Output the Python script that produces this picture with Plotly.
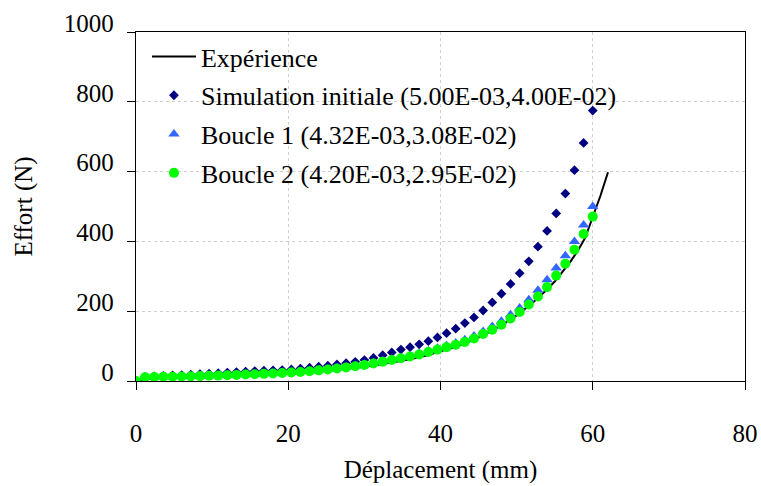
import plotly.graph_objects as go

# ---- data ----
exp_x = [0, 2, 4, 6, 8, 10, 12, 14, 16, 18, 20, 22, 24, 26, 28, 30, 32, 34, 36, 38,
         40, 42, 44, 46, 48, 50, 52, 54, 55, 56, 57, 58, 59, 60, 61, 62]
exp_y = [0, 8, 10, 12, 13, 14.5, 16, 17.5, 19, 21, 23, 25.5, 28.5, 32, 36, 41, 47, 54, 62, 72,
         84, 98, 115, 136, 160, 188, 222, 262, 285, 312, 340, 372, 410, 470, 530, 598]

sim_x = [0, 1.2, 2.4, 3.6, 4.8, 6.0, 7.2, 8.4, 9.6, 10.8, 12.0, 13.2, 14.4, 15.6, 16.8,
         18.0, 19.2, 20.4, 21.6, 22.8, 24.0, 25.2, 26.4, 27.6, 28.8, 30.0, 31.2, 32.4,
         33.6, 34.8, 36.0, 37.2, 38.4, 39.6, 40.8, 42.0, 43.2, 44.4, 45.6, 46.8, 48.0,
         49.2, 50.4, 51.6, 52.8, 54.0, 55.2, 56.4, 57.6, 58.8, 60.0]

sim_init = [0, 12, 13.5, 15, 16, 17, 18.5, 20, 21, 22.5, 24, 25.5, 27, 28.5, 29.5,
            30.5, 31.5, 33, 35.5, 38, 41, 44, 47.5, 51, 55, 60, 66, 74,
            82, 90, 97, 105, 114, 125, 137, 150, 166, 182, 202, 225, 250,
            278, 309, 343, 385, 430, 480, 537, 604, 682, 775]

boucle1 = [0, 11, 11.5, 12, 12.5, 13, 13.5, 14.5, 15, 16, 17, 18, 19, 20, 21,
           22.5, 24, 25.5, 27, 29, 31.5, 34, 37, 40, 44, 48, 52, 57,
           62, 67, 73, 79, 86, 94, 101, 109, 118, 129, 142, 156, 171,
           190, 209, 233, 260, 290, 324, 359, 400, 447, 500]

boucle2 = [0, 11, 11.5, 12, 12.5, 13, 13.5, 14, 15, 15.5, 16.5, 17.5, 18.5, 19.5, 20.5,
           21.5, 23, 24.5, 26, 28, 30.5, 33, 36, 39, 42.5, 46, 50, 55,
           60, 65, 70, 76, 83, 90, 97, 104, 112, 122, 135, 147, 161.5,
           179, 198, 219, 242, 269, 302, 336, 376, 421, 471]

names = ["Expérience",
         "Simulation initiale (5.00E-03,4.00E-02)",
         "Boucle 1 (4.32E-03,3.08E-02)",
         "Boucle 2 (4.20E-03,2.95E-02)"]

x_ticks = [0, 20, 40, 60, 80]
y_ticks = [0, 200, 400, 600, 800, 1000]

FONT = "Liberation Serif, Times New Roman, serif"

fig = go.Figure()
fig.add_trace(go.Scatter(x=exp_x, y=exp_y, mode="lines", name=names[0],
                         line=dict(color="black", width=2), legendgroup="a"))
fig.add_trace(go.Scatter(x=sim_x, y=sim_init, mode="markers", name=names[1],
                         marker=dict(symbol="diamond", size=7.5, color="#000080"),
                         legendgroup="b"))
fig.add_trace(go.Scatter(x=sim_x, y=boucle1, mode="markers", name=names[2],
                         marker=dict(symbol="triangle-up", size=10, color="#3366FF"),
                         legendgroup="c"))
fig.add_trace(go.Scatter(x=sim_x, y=boucle2, mode="markers", name=names[3],
                         marker=dict(symbol="circle", size=10, color="#00FF00"),
                         legendgroup="d"))

fig.add_shape(type="rect", xref="paper", yref="paper",
              x0=0.005, x1=0.834, y0=0.535, y1=0.98,
              fillcolor="white", line=dict(width=0), layer="between")

axis_common = dict(
    showline=True, linecolor="black", linewidth=1.3, mirror=True,
    ticks="outside", ticklen=8, tickcolor="black", tickwidth=1.3,
    showgrid=True, gridcolor="#CFCFCF", griddash="dot", gridwidth=1,
    zeroline=False, automargin=False,
    tickfont=dict(family=FONT, size=25, color="black"),
)

fig.update_xaxes(range=[0, 80], tickvals=x_ticks, ticktext=[str(v) for v in x_ticks],
                 ticklabelstandoff=22,
                 title=dict(text="Déplacement (mm)", font=dict(family=FONT, size=25, color="black"),
                            standoff=14),
                 **axis_common)
fig.update_yaxes(range=[0, 1000], tickvals=y_ticks, ticktext=[str(v) for v in y_ticks],
                 ticklabelstandoff=8, ticklabelshift=-9,
                 title=dict(text="Effort (N)", font=dict(family=FONT, size=25, color="black"),
                            standoff=24),
                 **axis_common)

fig.update_layout(
    width=761, height=486,
    margin=dict(l=135.5, r=15.5, t=32, b=104.5, pad=0, autoexpand=False),
    paper_bgcolor="white", plot_bgcolor="white",
    showlegend=True,
    legend=dict(x=0.018, y=0.997, xanchor="left", yanchor="top",
                bgcolor="rgba(0,0,0,0)", borderwidth=0,
                font=dict(family=FONT, size=26, color="black"),
                tracegroupgap=2, itemwidth=44),
    font=dict(family=FONT, color="black"),
)

fig.write_html("out.html", config={"displayModeBar": False},
               post_script="document.body.style.margin='0';document.body.style.padding='0';")
